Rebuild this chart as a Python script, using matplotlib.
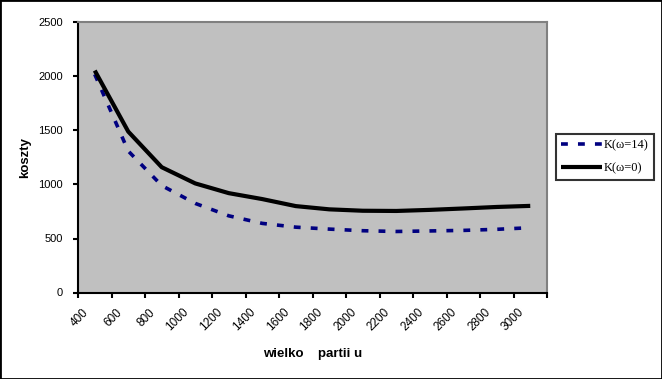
import numpy as np
import matplotlib
matplotlib.use("Agg")
import matplotlib.pyplot as plt
from matplotlib.patches import Rectangle
import matplotlib.transforms as mtransforms

# --- data ---
categories = ['400', '600', '800', '1000', '1200', '1400', '1600', '1800',
              '2000', '2200', '2400', '2600', '2800', '3000']
k_omega14 = [2020, 1310, 990, 825, 710, 640, 605, 587, 572, 565, 570, 575, 585, 600]
k_omega0 = [2055, 1490, 1160, 1010, 920, 865, 800, 770, 757, 755, 765, 778, 792, 802]
series_labels = ['K(\u03c9=14)', 'K(\u03c9=0)']
y_ticks = [0, 500, 1000, 1500, 2000, 2500]

W, H = 662, 379
fig = plt.figure(figsize=(W / 100, H / 100), dpi=100)
fig.patch.set_facecolor('white')

ax = fig.add_axes([78 / W, 1 - 292.5 / H, (547 - 78) / W, (292.5 - 22.5) / H])
ax.set_facecolor('#C0C0C0')

x = np.arange(len(categories))
ax.plot(x, k_omega14, color='#000080', lw=2.6, dashes=(1.9, 2.8),
        dash_capstyle='butt', label=series_labels[0])
ax.plot(x, k_omega0, color='black', lw=3.0, solid_capstyle='butt',
        label=series_labels[1])

ax.set_xlim(-0.5, len(categories) - 0.5)
ax.set_ylim(0, 2500)
ax.set_yticks(y_ticks)
ax.set_yticklabels([str(v) for v in y_ticks])

ax.set_xticks(x)
ax.set_xticklabels(categories)
ax.set_xticks(np.arange(-0.5, len(categories)), minor=True)
ax.tick_params(axis='x', which='major', length=0, pad=10)
ax.tick_params(axis='x', which='minor', length=3.5, width=1.5, direction='out', color='black')
ax.tick_params(axis='y', which='major', length=3.5, width=1.5, direction='out', color='black', pad=7.5)

for lbl in ax.get_xticklabels():
    lbl.set_rotation(45)
    lbl.set_ha('right')
    lbl.set_fontfamily('Liberation Sans')
    lbl.set_fontsize(8.5)
    lbl.set_transform(lbl.get_transform() + mtransforms.ScaledTranslation(-4 / 100, 0, fig.dpi_scale_trans))
for lbl in ax.get_yticklabels():
    lbl.set_fontfamily('Liberation Sans')
    lbl.set_fontsize(8)

for side in ['left', 'bottom']:
    ax.spines[side].set_color('black')
    ax.spines[side].set_linewidth(1.5)
for side in ['top', 'right']:
    ax.spines[side].set_color('#808080')
    ax.spines[side].set_linewidth(1.5)

ax.set_ylabel('koszty', fontfamily='Liberation Sans', fontweight='bold', fontsize=9.5, labelpad=5)
ax.set_xlabel('wielko    partii u', fontfamily='Liberation Sans', fontweight='bold', fontsize=9.5, labelpad=10)

leg = fig.legend(loc='center left', bbox_to_anchor=(556 / W, 1 - 157 / H),
                 prop={'family': 'Liberation Serif', 'size': 9},
                 frameon=True, fancybox=False, edgecolor='black', facecolor='white',
                 handlelength=3.3, handletextpad=0.15, borderpad=0.4, labelspacing=0.9,
                 borderaxespad=0)
leg.get_frame().set_linewidth(1.5)

fig.add_artist(Rectangle((0, 0), 1, 1, transform=fig.transFigure, fill=False,
                         edgecolor='black', lw=2.0))

fig.savefig('out.png', dpi=100)
